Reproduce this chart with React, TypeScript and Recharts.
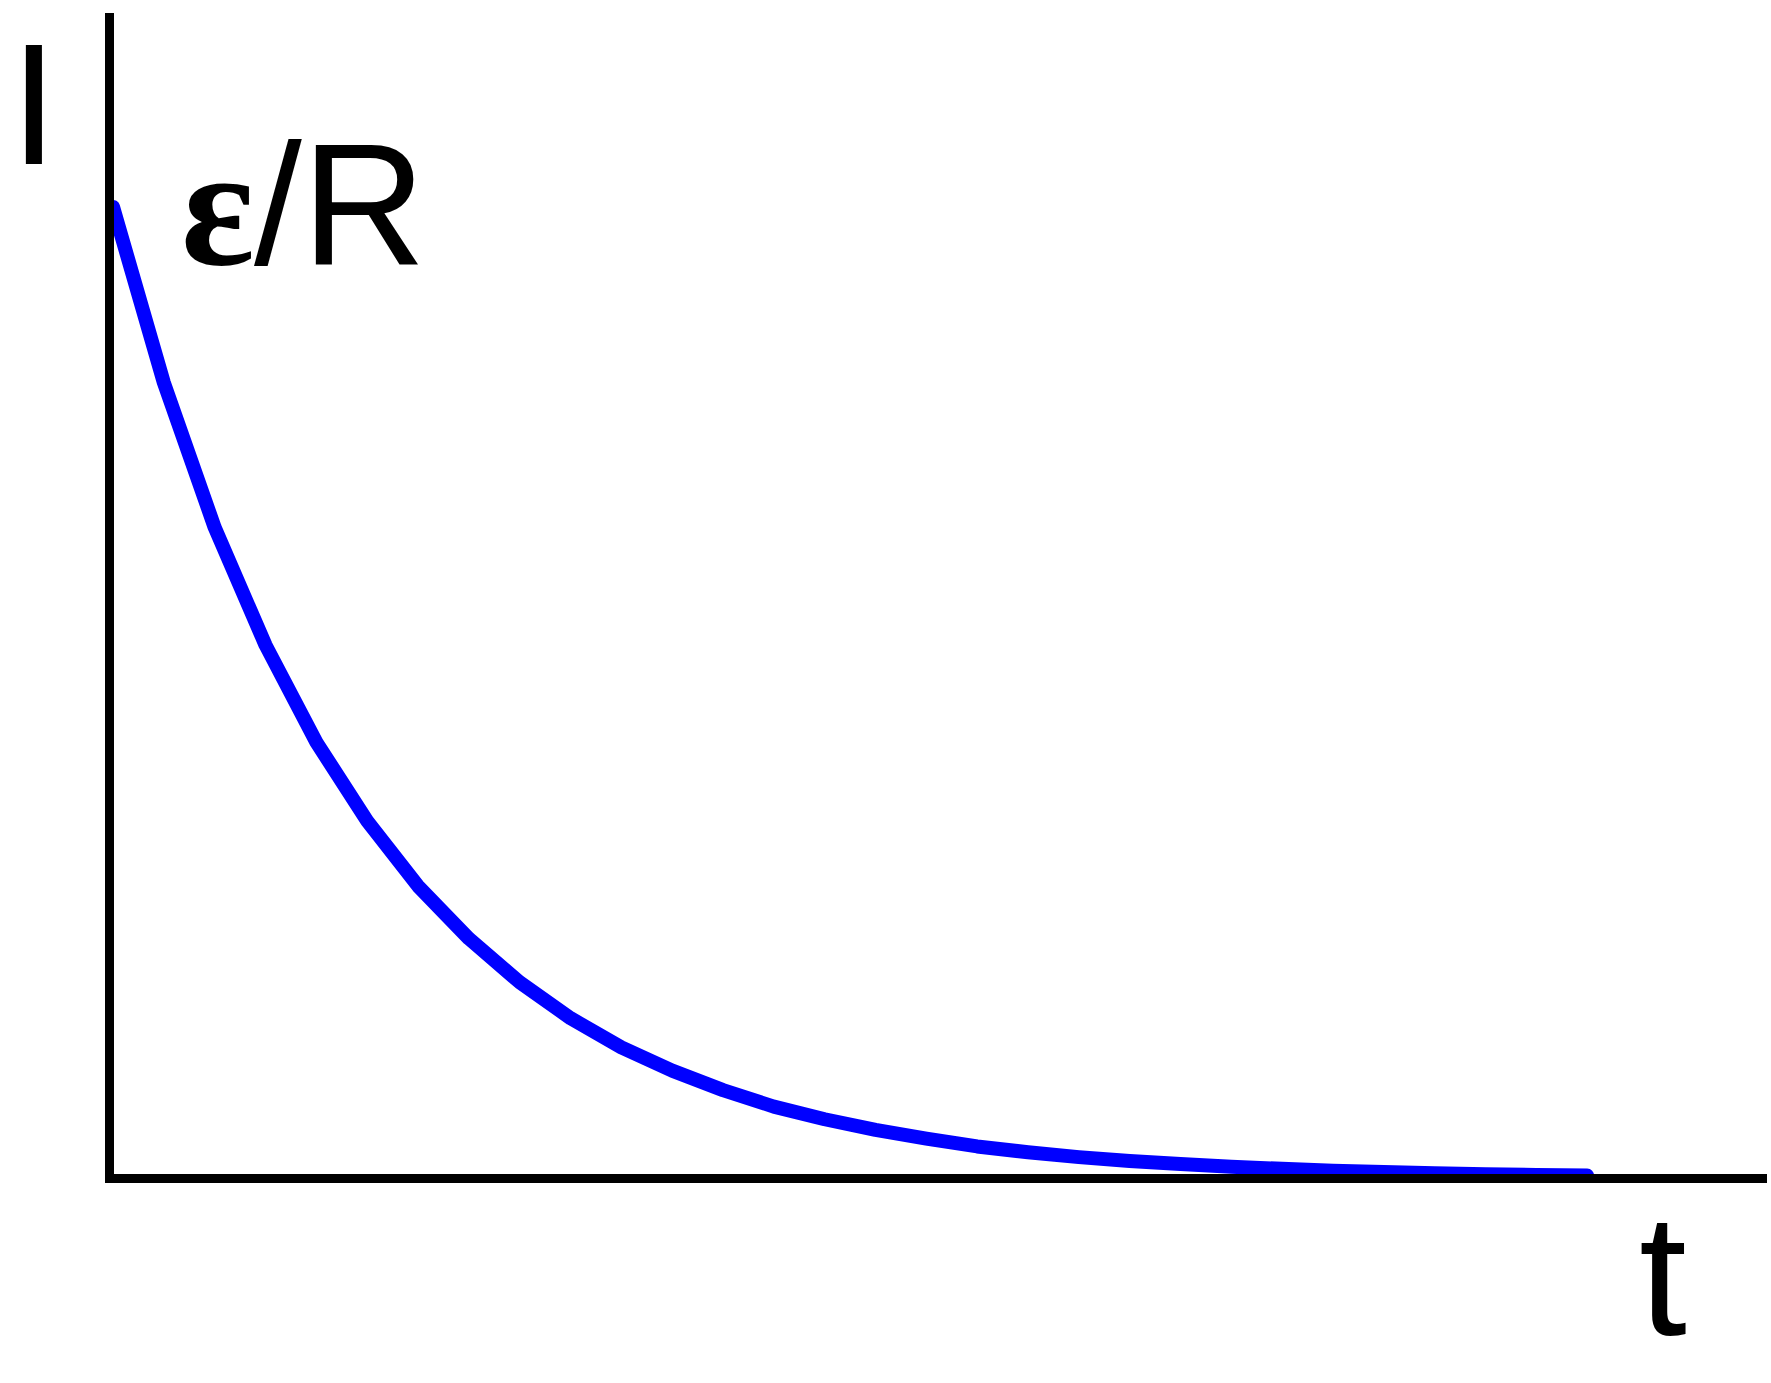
import React from "react";
import { LineChart, Line, XAxis, YAxis } from "recharts";

// time samples (arbitrary units) and current values
const times = [0, 1, 2, 3, 4, 5, 6, 7, 8, 9, 10, 11, 12, 13, 14, 15, 16, 17, 18, 19, 20, 21, 22, 23, 24, 25, 26, 27, 28, 29];
const currents = [
  1.0, 0.819, 0.67, 0.549, 0.449, 0.368, 0.301, 0.247, 0.202, 0.165,
  0.135, 0.111, 0.091, 0.074, 0.061, 0.05, 0.041, 0.033, 0.027, 0.022,
  0.018, 0.015, 0.012, 0.01, 0.008, 0.0067, 0.0055, 0.0045, 0.0037, 0.003,
];
const yLabel = "I";
const xLabel = "t";
const levelSymbol = "ε";
const levelRest = "/R";

const data = times.map((t, i) => ({ t, i: currents[i] }));

const W = 1771;
const H = 1383;
const SANS = "'Liberation Sans', Arial, sans-serif";
const SERIF = "'Liberation Serif', 'Times New Roman', serif";

const axisLineStyle = { stroke: "#000", strokeWidth: 9, strokeLinecap: "square" as const };

export default function App() {
  return (
    <div style={{ position: "absolute", left: 0, top: 0, width: W, height: H, background: "#fff" }}>
      <LineChart
        width={W}
        height={H}
        data={data}
        margin={{ top: 17.5, left: 108.5, right: 8.5, bottom: 203.5 }}
      >
        <XAxis
          dataKey="t"
          type="number"
          domain={[-0.07, 32.45]}
          height={1}
          tick={false}
          tickLine={false}
          axisLine={axisLineStyle}
          label={{
            content: () => (
              <text x={1639} y={1335} fontFamily={SANS} fontSize={172} fill="#000">
                {xLabel}
              </text>
            ),
          }}
        />
        <YAxis
          type="number"
          domain={[0, 1.195]}
          width={1}
          tick={false}
          tickLine={false}
          axisLine={axisLineStyle}
          label={{
            content: () => (
              <g>
                <text x={10} y={164} fontFamily={SANS} fontSize={172} fill="#000">
                  {yLabel}
                </text>
                <text y={264} fontSize={172} fill="#000">
                  <tspan x={181} fontFamily={SERIF} fontWeight="bold">{levelSymbol}</tspan>
                  <tspan x={254} fontFamily={SANS}>{levelRest}</tspan>
                </text>
              </g>
            ),
          }}
        />
        <Line
          dataKey="i"
          type="linear"
          stroke="#0000ff"
          strokeWidth={14}
          strokeLinecap="round"
          strokeLinejoin="round"
          dot={false}
          activeDot={false}
          isAnimationActive={false}
        />
      </LineChart>
    </div>
  );
}
